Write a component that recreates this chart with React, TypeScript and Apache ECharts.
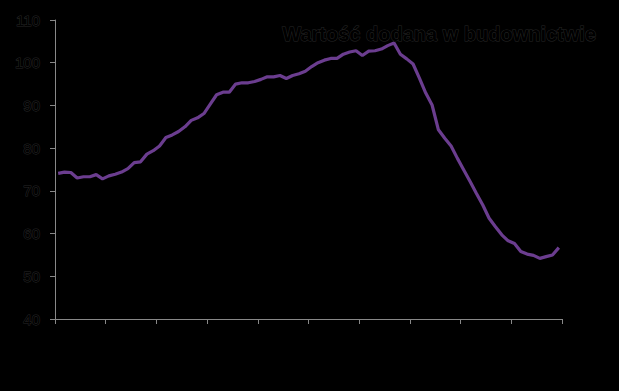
import React, { useEffect, useRef } from "react";
import * as echarts from "echarts";

const titleText = "Wartość dodana w budownictwie";
const values: number[] = [
  74.1, 74.4, 74.3, 73.0, 73.3, 73.3, 73.8, 72.8, 73.5, 73.9,
  74.4, 75.2, 76.6, 76.8, 78.6, 79.4, 80.5, 82.5, 83.1, 83.9,
  85.0, 86.5, 87.1, 88.1, 90.3, 92.5, 93.1, 93.1, 95.0, 95.3,
  95.3, 95.6, 96.1, 96.7, 96.7, 97.0, 96.3, 97.0, 97.4, 98.0,
  99.1, 100.0, 100.6, 101.0, 101.0, 102.0, 102.5, 102.8, 101.7, 102.7,
  102.8, 103.2, 104.0, 104.6, 102.0, 100.9, 99.7, 96.4, 92.9, 90.1,
  84.3, 82.3, 80.5, 77.6, 74.9, 72.2, 69.4, 66.7, 63.6, 61.6,
  59.7, 58.3, 57.7, 55.8, 55.2, 54.9, 54.2, 54.6, 55.0, 56.7,
];
const categories: string[] = values.map((_, i) => String(i + 1));
const yMin = 40;
const yMax = 110;
const yStep = 10;

export default function App() {
  const ref = useRef<HTMLDivElement>(null);
  useEffect(() => {
    document.body.style.margin = "0";
    document.body.style.background = "#000";
    const chart = echarts.init(ref.current!, null, { renderer: "svg" });
    const textStyleDark = {
      color: "#000",
      textBorderColor: "#262626",
      textBorderWidth: 1,
      fontFamily: "Liberation Sans, Arial, sans-serif",
    };
    chart.setOption({
      animation: false,
      backgroundColor: "#000",
      title: {
        text: titleText,
        right: 17,
        top: 19,
        textStyle: { ...textStyleDark, fontSize: 20, fontWeight: "bold" },
      },
      grid: { left: 55, right: 57, top: 20, bottom: 72, containLabel: false },
      xAxis: {
        type: "category",
        data: categories,
        boundaryGap: true,
        axisLine: { lineStyle: { color: "#888", width: 1 } },
        axisTick: { show: true, interval: 7, length: 5, lineStyle: { color: "#888" } },
        axisLabel: { show: false },
        splitLine: { show: false },
      },
      yAxis: {
        type: "value",
        min: yMin,
        max: yMax,
        interval: yStep,
        axisLine: { show: true, lineStyle: { color: "#888", width: 1 } },
        axisTick: { show: true, length: 5, lineStyle: { color: "#888" } },
        axisLabel: { ...textStyleDark, fontSize: 15, margin: 15 },
        splitLine: { show: false },
      },
      series: [
        {
          type: "line",
          data: values,
          symbol: "none",
          lineStyle: { color: "#6b3d8f", width: 3.2 },
        },
      ],
    });
    return () => chart.dispose();
  }, []);
  return <div ref={ref} style={{ width: 619, height: 391, background: "#000" }} />;
}
